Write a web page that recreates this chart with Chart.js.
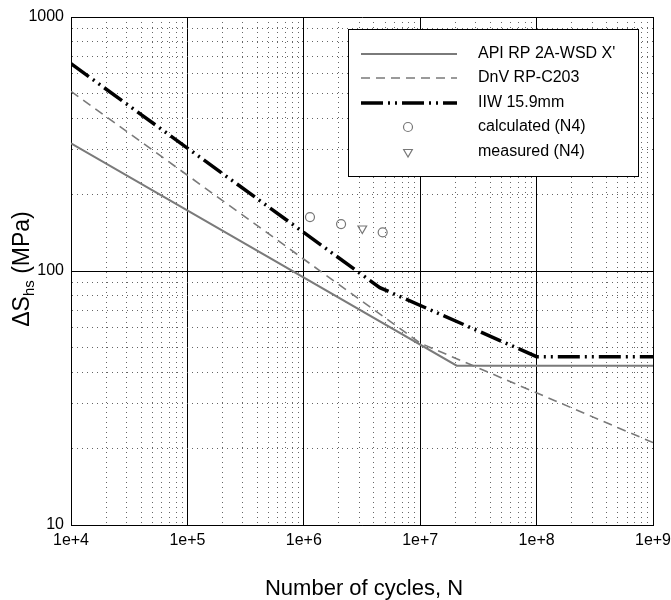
<!DOCTYPE html>
<html>
<head>
<meta charset="utf-8">
<script src="https://cdn.jsdelivr.net/npm/chart.js@4.4.1/dist/chart.umd.min.js"></script>
<style>
  html, body { margin: 0; padding: 0; background: #fff; }
  #wrap { width: 671px; height: 600px; position: relative; }
</style>
</head>
<body>
<div id="wrap"><canvas id="snChart"></canvas></div>
<script>
// S-N curves (N in cycles, S in MPa)
const apiN = [1e4, 2.06e7, 1e9];
const apiS = [318, 42.4, 42.4];
const dnvN = [1e4, 1e7, 1e9];
const dnvS = [510, 52, 21.1];
const iiwN = [1e4, 4.5e6, 1e8, 1e9];
const iiwS = [655, 86, 46, 46];
const calcN = [1.13e6, 2.09e6, 4.76e6];
const calcS = [163, 153, 142];
const measN = [3.18e6];
const measS = [147];

const seriesNames = ['API RP 2A-WSD X\'', 'DnV RP-C203', 'IIW 15.9mm', 'calculated (N4)', 'measured (N4)'];

// axis decades and labels
const xDecades = [1e4, 1e5, 1e6, 1e7, 1e8, 1e9];
const xTickLabels = ['1e+4', '1e+5', '1e+6', '1e+7', '1e+8', '1e+9'];
const yDecades = [10, 100, 1000];
const yTickLabels = ['10', '100', '1000'];
const minorSteps = [2, 3, 4, 5, 6, 7, 8, 9];

const FONT = '"Liberation Sans", Arial, sans-serif';

function pts(xs, ys) {
  return xs.map((x, i) => ({x: x, y: ys[i]}));
}

function isDecade(v) {
  if (!v) return false;
  const l = Math.log10(v);
  return Math.abs(l - Math.round(l)) < 1e-6;
}

function logTicks(decades) {
  const out = [];
  decades.forEach((d, i) => {
    out.push({value: d});
    if (i < decades.length - 1) minorSteps.forEach(m => out.push({value: d * m}));
  });
  return out;
}

function labelFor(decades, labels) {
  return function(value) {
    const i = decades.findIndex(d => Math.abs(d - value) / d < 1e-6);
    return i >= 0 ? labels[i] : '';
  };
}

const gridOpts = {
  color: c => (c.tick && !isDecade(c.tick.value)) ? '#666' : '#000',
  lineWidth: 1,
  drawTicks: false
};
const borderOpts = {
  display: true,
  color: '#000',
  width: 1,
  dash: c => (c.tick && !isDecade(c.tick.value)) ? [1, 4] : []
};

// legend box and axis titles drawn on the canvas
const decorations = {
  id: 'decorations',
  afterDatasetsDraw(chart) {
    const ctx = chart.ctx;
    const ds = chart.data.datasets;
    ctx.save();
    ctx.fillStyle = '#fff';
    ctx.fillRect(348, 29, 290, 147);
    ctx.strokeStyle = '#000';
    ctx.lineWidth = 1;
    ctx.setLineDash([]);
    ctx.strokeRect(348.5, 29.5, 290, 147);

    const rows = [54, 78, 103, 127, 152];
    rows.forEach((y, i) => {
      const d = ds[i];
      if (i < 3) {
        ctx.beginPath();
        ctx.strokeStyle = d.borderColor;
        ctx.lineWidth = d.borderWidth;
        ctx.setLineDash(d.borderDash || []);
        ctx.moveTo(361, y);
        ctx.lineTo(457, y);
        ctx.stroke();
        ctx.setLineDash([]);
      } else {
        ctx.fillStyle = 'rgba(0,0,0,0)';
        ctx.strokeStyle = d.pointBorderColor;
        ctx.lineWidth = d.pointBorderWidth;
        Chart.helpers.drawPoint(ctx, {
          pointStyle: d.pointStyle,
          rotation: d.pointRotation || 0,
          radius: d.pointRadius,
          borderWidth: d.pointBorderWidth
        }, 408, y);
      }
      ctx.font = '16px ' + FONT;
      ctx.textBaseline = 'middle';
      ctx.textAlign = 'left';
      ctx.fillStyle = '#000';
      ctx.fillText(seriesNames[i], 478, y);
    });
    ctx.restore();
  },
  afterDraw(chart) {
    const ctx = chart.ctx;
    ctx.save();
    ctx.fillStyle = '#000';
    // x title
    ctx.font = '22px ' + FONT;
    ctx.textAlign = 'center';
    ctx.textBaseline = 'alphabetic';
    ctx.fillText('Number of cycles, N', 364, 595);
    // y title with subscript
    const big = '23px ' + FONT, small = '15px ' + FONT;
    ctx.font = big;
    const w1 = ctx.measureText('\u0394S').width;
    const w3 = ctx.measureText(' (MPa)').width;
    ctx.font = small;
    const w2 = ctx.measureText('hs').width;
    const total = w1 + w2 + w3;
    ctx.translate(29, 269 + total / 2);
    ctx.rotate(-Math.PI / 2);
    ctx.textAlign = 'left';
    ctx.font = big;
    ctx.fillText('\u0394S', 0, 0);
    ctx.font = small;
    ctx.fillText('hs', w1, 5);
    ctx.font = big;
    ctx.fillText(' (MPa)', w1 + w2, 0);
    ctx.restore();
  }
};

const ctx = document.getElementById('snChart').getContext('2d');
const snChart = new Chart(ctx, {
  type: 'line',
  data: {
    datasets: [
      {
        label: seriesNames[0],
        data: pts(apiN, apiS),
        borderColor: '#7a7a7a',
        borderWidth: 2,
        pointRadius: 0
      },
      {
        label: seriesNames[1],
        data: pts(dnvN, dnvS),
        borderColor: '#7a7a7a',
        borderWidth: 1.6,
        borderDash: [9, 6],
        pointRadius: 0
      },
      {
        label: seriesNames[2],
        data: pts(iiwN, iiwS),
        borderColor: '#000',
        borderWidth: 3.5,
        borderDash: [22, 5, 2, 5, 2, 5],
        pointRadius: 0
      },
      {
        label: seriesNames[3],
        data: pts(calcN, calcS),
        showLine: false,
        pointStyle: 'circle',
        pointRadius: 4.5,
        pointBorderWidth: 1.2,
        pointBorderColor: '#777',
        pointBackgroundColor: 'rgba(0,0,0,0)'
      },
      {
        label: seriesNames[4],
        data: pts(measN, measS),
        showLine: false,
        pointStyle: 'triangle',
        pointRotation: 180,
        pointRadius: 5,
        pointBorderWidth: 1.2,
        pointBorderColor: '#777',
        pointBackgroundColor: 'rgba(0,0,0,0)'
      }
    ]
  },
  options: {
    responsive: true,
    maintainAspectRatio: false,
    animation: false,
    devicePixelRatio: 1,
    layout: { padding: { top: 17, right: 18, left: 0, bottom: 0 } },
    plugins: {
      legend: { display: false },
      tooltip: { enabled: false }
    },
    scales: {
      x: {
        type: 'logarithmic',
        min: 1e4,
        max: 1e9,
        afterBuildTicks: s => { s.ticks = logTicks(xDecades); },
        afterFit: s => { s.height = 75; s.paddingLeft = 0; s.paddingRight = 0; },
        grid: gridOpts,
        border: borderOpts,
        ticks: {
          autoSkip: false,
          maxRotation: 0,
          padding: 6,
          color: '#000',
          font: { family: FONT, size: 16 },
          callback: labelFor(xDecades, xTickLabels)
        }
      },
      y: {
        type: 'logarithmic',
        min: 10,
        max: 1000,
        afterBuildTicks: s => { s.ticks = logTicks(yDecades); },
        afterFit: s => { s.width = 71; s.paddingTop = 0; s.paddingBottom = 0; },
        grid: gridOpts,
        border: borderOpts,
        ticks: {
          autoSkip: false,
          padding: 7,
          color: '#000',
          font: { family: FONT, size: 16 },
          callback: labelFor(yDecades, yTickLabels)
        }
      }
    }
  },
  plugins: [decorations]
});
</script>
</body>
</html>
